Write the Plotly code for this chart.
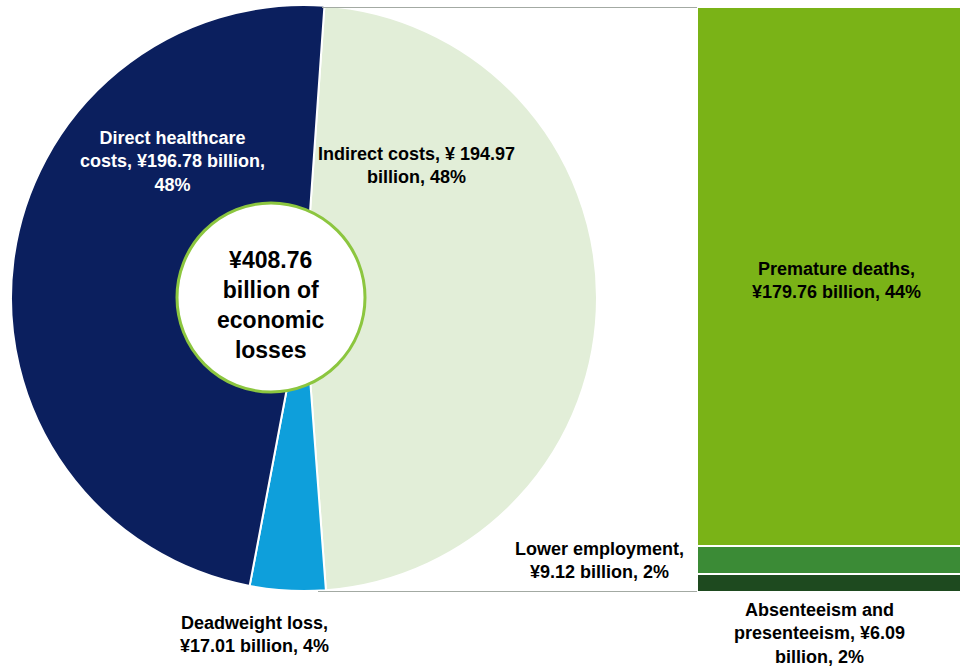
import plotly.graph_objects as go

W, H = 961, 668

# ---- data ----
pie_labels = ["Indirect costs", "Deadweight loss", "Direct healthcare costs"]
pie_values = [194.97, 17.01, 196.78]
pie_pcts = [48, 4, 48]
pie_colors = ["#E2EED8", "#0E9FDB", "#0B1F5E"]

bar_labels = ["Absenteeism and presenteeism", "Lower employment", "Premature deaths"]
bar_values = [6.09, 9.12, 179.76]
bar_pcts = [2, 2, 44]
bar_colors = ["#1E4A1F", "#3B8B36", "#7AB317"]

total_loss = 408.76

# label texts (wrapped as in the reference)
pie_texts = [
    "Indirect costs, ¥ {:.2f}<br>billion, {}%".format(pie_values[0], pie_pcts[0]),
    "Deadweight loss,<br>¥{:.2f} billion, {}%".format(pie_values[1], pie_pcts[1]),
    "Direct healthcare<br>costs, ¥{:.2f} billion,<br>{}%".format(pie_values[2], pie_pcts[2]),
]
bar_texts = [
    "Absenteeism and<br>presenteeism, ¥{:.2f}<br>billion, {}%".format(bar_values[0], bar_pcts[0]),
    "Lower employment,<br>¥{:.2f} billion, {}%".format(bar_values[1], bar_pcts[1]),
    "Premature deaths,<br>¥{:.2f} billion, {}%".format(bar_values[2], bar_pcts[2]),
]
center_text = "¥{:.2f}<br>billion of<br>economic<br>losses".format(total_loss)

FONT = "Arial, Liberation Sans, sans-serif"

def px(x):
    return x / W

def py(y):
    return 1 - y / H

fig = go.Figure()

fig.add_trace(go.Pie(
    labels=pie_labels, values=pie_values, sort=False, direction="clockwise",
    rotation=4, hole=0,
    marker=dict(colors=pie_colors, line=dict(color="white", width=2)),
    textinfo="none", showlegend=False,
    domain=dict(x=[px(11), px(597)], y=[py(591), py(5)]),
))

for lab, val, col in zip(bar_labels, bar_values, bar_colors):
    fig.add_trace(go.Bar(
        x=["Indirect"], y=[val], name=lab, marker=dict(color=col, line=dict(color="white", width=2)),
        showlegend=False, xaxis="x", yaxis="y",
    ))

bar_total = sum(bar_values)

fig.update_layout(
    width=W, height=H, margin=dict(l=0, r=0, t=0, b=0),
    paper_bgcolor="white", plot_bgcolor="white",
    barmode="stack", bargap=0,
    xaxis=dict(domain=[px(697), 1], visible=False, fixedrange=True),
    yaxis=dict(domain=[py(592), py(7)], range=[0, bar_total], visible=False, fixedrange=True),
    font=dict(family=FONT, color="black"),
)

# center circle
fig.add_shape(type="circle", xref="paper", yref="paper",
              x0=px(177), x1=px(365), y0=py(392), y1=py(203),
              fillcolor="white", line=dict(color="#8CC63F", width=3), layer="above")

# connector lines
fig.add_shape(type="line", xref="paper", yref="y", x0=px(322), x1=px(697), y0=bar_total, y1=bar_total,
              line=dict(color="#A3AAA3", width=2))
fig.add_shape(type="line", xref="paper", yref="y", x0=px(318), x1=px(697), y0=0, y1=0,
              line=dict(color="#A3AAA3", width=2))

def ann(text, x, y, color="black", size=18):
    fig.add_annotation(text="<b>" + text + "</b>", xref="paper", yref="paper",
                       x=px(x), y=py(y), showarrow=False, xanchor="center", yanchor="middle",
                       align="center", font=dict(family=FONT, size=size, color=color))

ann(pie_texts[2], 172, 162, color="white")
ann(pie_texts[0], 416, 165)
ann(pie_texts[1], 255, 634)
ann(center_text, 271, 305, size=23)
ann(bar_texts[2], 836, 280)
ann(bar_texts[1], 599, 560)
ann(bar_texts[0], 819, 633)

fig.write_html("out.html")
